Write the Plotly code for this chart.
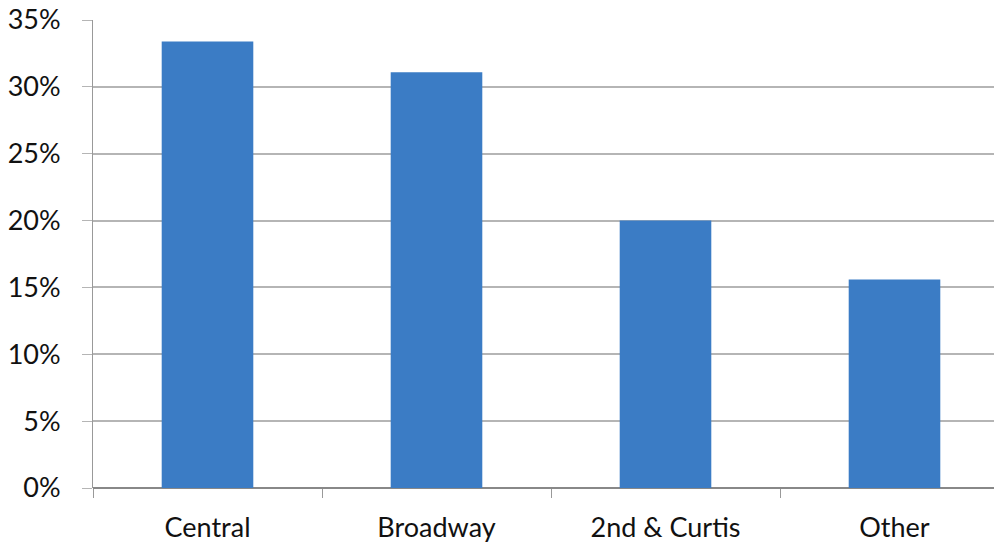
import plotly.graph_objects as go

categories = ["Central", "Broadway", "2nd & Curtis", "Other"]
shares = [33.4, 31.1, 20.0, 15.6]
y_ticks = [0, 5, 10, 15, 20, 25, 30, 35]
y_tick_labels = [f"{v}%" for v in y_ticks]

fig = go.Figure(
    go.Bar(
        x=categories,
        y=shares,
        marker=dict(color="#3B7CC5", line=dict(width=0)),
        width=0.4,
    )
)

fig.update_layout(
    width=994,
    height=538,
    margin=dict(l=85, r=0, t=12, b=58),
    paper_bgcolor="white",
    plot_bgcolor="white",
    showlegend=False,
    font=dict(family="Lato, Carlito, Calibri, sans-serif", size=27, color="#111111"),
)

fig.update_xaxes(
    type="category",
    range=[-0.5, -0.5 + 909 / 229],
    automargin=False,
    showgrid=False,
    showline=False,
    ticks="outside",
    tickson="boundaries",
    ticklen=9,
    tickcolor="#999999",
    tickwidth=1,
    ticklabelstandoff=21,
    zeroline=False,
)

fig.update_yaxes(
    range=[0, 35],
    automargin=False,
    tickvals=y_ticks,
    ticktext=y_tick_labels,
    showgrid=True,
    gridcolor="#b5b5b5",
    gridwidth=1.5,
    showline=True,
    linecolor="#999999",
    linewidth=1,
    ticks="outside",
    ticklen=10,
    tickcolor="#b5b5b5",
    ticklabelstandoff=16,
    ticklabeloverflow="allow",
    zeroline=True,
    zerolinecolor="#888888",
    zerolinewidth=1.5,
)

fig.write_html("out.html")
